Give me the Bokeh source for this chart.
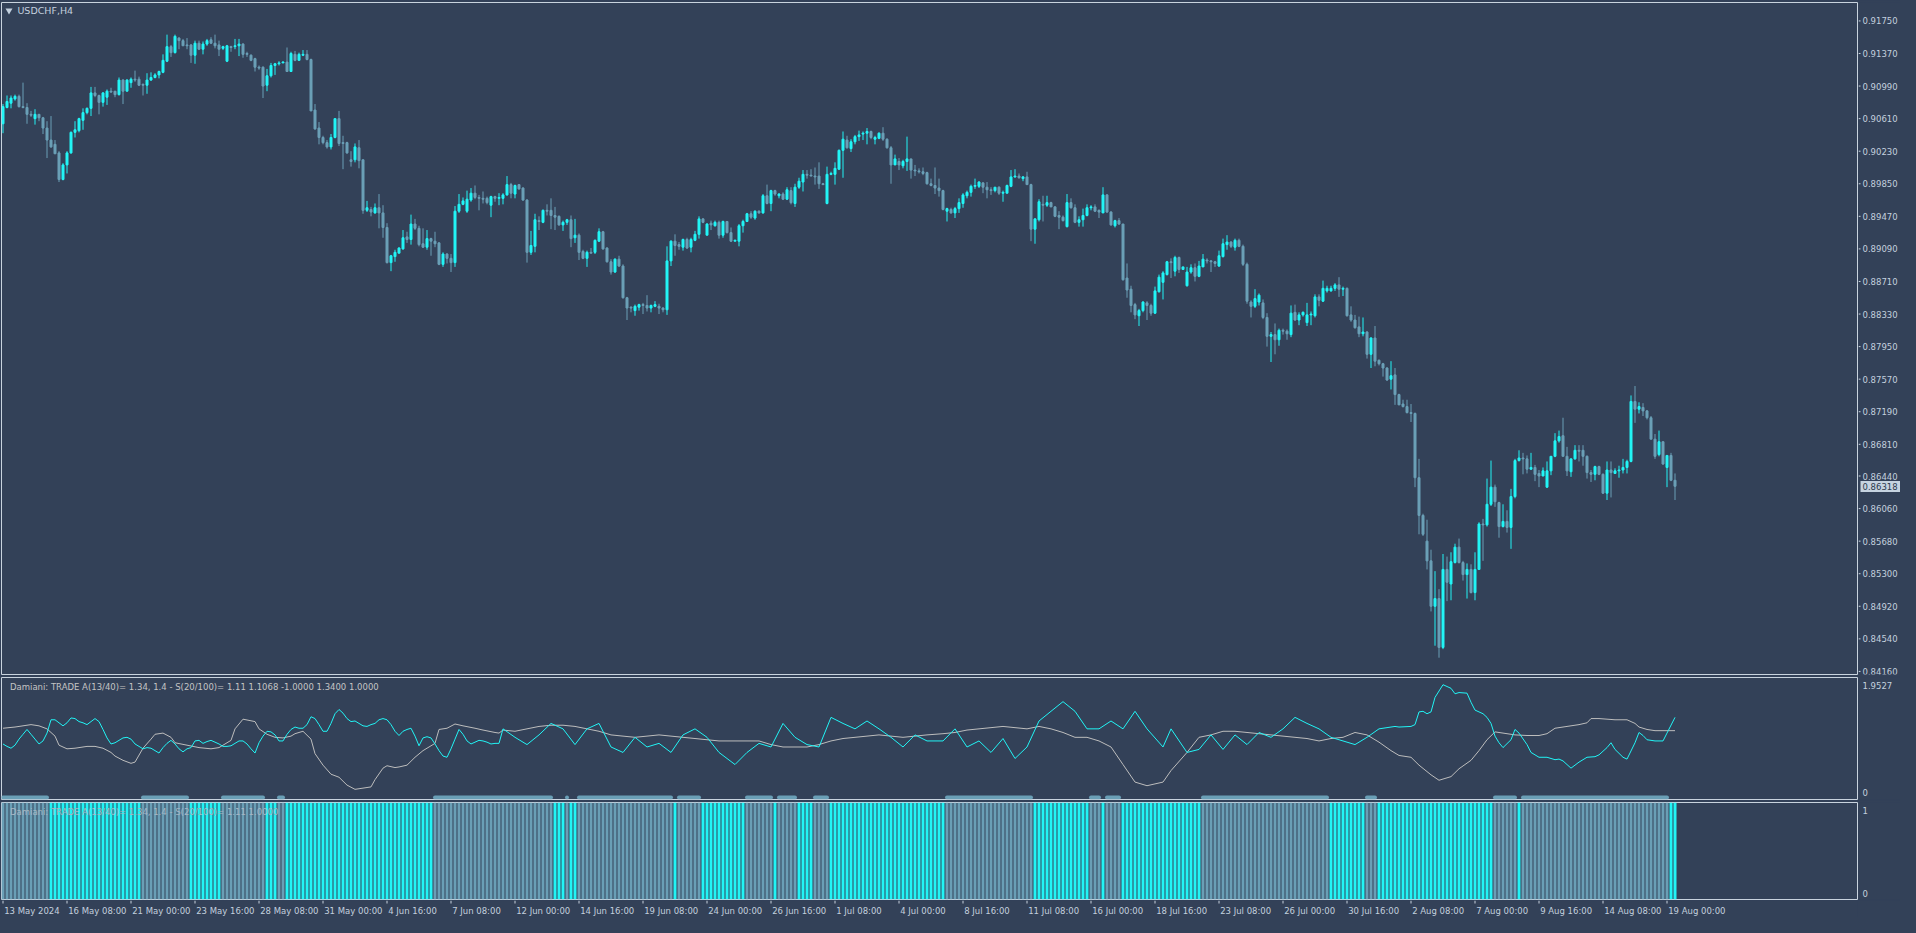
import numpy as np
from bokeh.plotting import figure
from bokeh.layouts import column, row
from bokeh.models import Range1d, ColumnDataSource, Label
from bokeh.core.properties import value
from bokeh.embed import file_html
from bokeh.resources import INLINE

# ---------------- data (USDCHF H4, prices in pips = price x 10^4) ----------------
open_pips = [
9055, 9074, 9079, 9084, 9087, 9075, 9074, 9066, 9061, 9066,
9062, 9050, 9036, 9031, 9021, 8990, 9007, 9021, 9045, 9047,
9059, 9068, 9073, 9091, 9088, 9080, 9086, 9093, 9093, 9089,
9106, 9093, 9103, 9107, 9107, 9101, 9100, 9106, 9109, 9112,
9115, 9128, 9145, 9138, 9155, 9152, 9147, 9147, 9135, 9149,
9142, 9148, 9153, 9149, 9147, 9143, 9128, 9145, 9145, 9146,
9148, 9137, 9135, 9131, 9121, 9121, 9100, 9111, 9123, 9125,
9126, 9127, 9116, 9136, 9129, 9135, 9136, 9130, 9071, 9050,
9039, 9033, 9028, 9039, 9061, 9033, 9033, 9013, 9013, 9027,
9013, 8954, 8955, 8951, 8957, 8951, 8934, 8893, 8900, 8904,
8909, 8923, 8920, 8938, 8933,
8915, 8911, 8921, 8918, 8916, 8891, 8903, 8898, 8893, 8953,
8961, 8953, 8966, 8974, 8969, 8968, 8968, 8960, 8970, 8968,
8968, 8972, 8984, 8973, 8984, 8980, 8966, 8905, 8912, 8942,
8940, 8954, 8954, 8948, 8947, 8937, 8940, 8943, 8922, 8925,
8906, 8898, 8905, 8905, 8918, 8929, 8910, 8894, 8882, 8897,
8889, 8852, 8841, 8837, 8841, 8844, 8843, 8840, 8842, 8842,
8840, 8838, 8895, 8918, 8914, 8911, 8920, 8911, 8919, 8926,
8944, 8925, 8939, 8936, 8940, 8925, 8941, 8928, 8918, 8918,
8936, 8941, 8950, 8945, 8953, 8951, 8971, 8962, 8977, 8971,
8973, 8967, 8977, 8962, 8981, 8987, 8996, 8995, 8994, 8994,
8985, 8962, 8996, 8996, 9002,
9024, 9036, 9026, 9034, 9040, 9043, 9044, 9046, 9037, 9038,
9044, 9037, 9027, 9007, 9011, 9006, 9011, 9014, 9001, 9000,
8999, 8998, 8985, 8983, 8980, 8977, 8953, 8955, 8951, 8956,
8962, 8971, 8975, 8982, 8982, 8986, 8981, 8978, 8977, 8981,
8974, 8974, 8982, 8993, 8994, 8991, 8993, 8984, 8932, 8943,
8961, 8960, 8963, 8958, 8948, 8946, 8935, 8963, 8957, 8940,
8943, 8948, 8957, 8958, 8954, 8951, 8972, 8952, 8936, 8942,
8938, 8875, 8862, 8844, 8831, 8837, 8846, 8843, 8834, 8859,
8870, 8879, 8894, 8883, 8899, 8885, 8866, 8882, 8887, 8877,
8888, 8896, 8895, 8894, 8889, 8900, 8914, 8917, 8911, 8919,
8912, 8891, 8847, 8842, 8847,
8846, 8829, 8807, 8809, 8803, 8814, 8813, 8809, 8835, 8826,
8832, 8823, 8832, 8831, 8853, 8848, 8860, 8860, 8863, 8867,
8862, 8863, 8832, 8826, 8818, 8810, 8812, 8786, 8805, 8779,
8775, 8770, 8757, 8762, 8739, 8728, 8725, 8718, 8717, 8642,
8598, 8568, 8545, 8492, 8501, 8444, 8535, 8518, 8543, 8561,
8543, 8529, 8535, 8508, 8535, 8588, 8587, 8611, 8631, 8613,
8585, 8591, 8584, 8620, 8662, 8665, 8664, 8652, 8654, 8647,
8644, 8631, 8650, 8667, 8685, 8691, 8667, 8649, 8664, 8674,
8674, 8667, 8648, 8646, 8655, 8646, 8624, 8651, 8647, 8650,
8651, 8654, 8661, 8731, 8722, 8724, 8720, 8712, 8687, 8669,
8684, 8654, 8668, 8639]

high_pips = [
9078, 9088, 9088, 9089, 9089, 9103, 9079, 9070, 9072, 9066,
9063, 9058, 9064, 9036, 9023, 9009, 9023, 9046, 9058, 9062,
9073, 9074, 9098, 9098, 9089, 9092, 9095, 9097, 9093, 9109,
9107, 9107, 9109, 9117, 9110, 9102, 9114, 9115, 9114, 9117,
9136, 9159, 9147, 9159, 9156, 9154, 9155, 9148, 9152, 9152,
9151, 9154, 9156, 9159, 9152, 9146, 9147, 9146, 9154, 9154,
9149, 9139, 9136, 9132, 9123, 9122, 9119, 9126, 9126, 9128,
9128, 9144, 9139, 9140, 9138, 9141, 9141, 9131, 9078, 9057,
9041, 9036, 9043, 9061, 9070, 9041, 9034, 9023, 9032, 9036,
9013, 8965, 8958, 8962, 8973, 8960, 8939, 8902, 8908, 8911,
8931, 8929, 8949, 8944, 8936,
8933, 8931, 8922, 8929, 8917, 8905, 8904, 8903, 8959, 8973,
8969, 8977, 8980, 8983, 8972, 8976, 8970, 8971, 8971, 8974,
8974, 8994, 8986, 8984, 8984, 8981, 8967, 8930, 8950, 8947,
8955, 8961, 8968, 8958, 8948, 8942, 8944, 8948, 8944, 8927,
8908, 8907, 8910, 8920, 8933, 8930, 8911, 8897, 8898, 8901,
8891, 8853, 8842, 8844, 8845, 8846, 8855, 8844, 8848, 8845,
8841, 8912, 8919, 8926, 8917, 8921, 8922, 8922, 8930, 8947,
8945, 8939, 8942, 8942, 8942, 8942, 8941, 8934, 8920, 8938,
8943, 8951, 8953, 8954, 8954, 8973, 8984, 8978, 8978, 8974,
8975, 8981, 8981, 8985, 8992, 9001, 9001, 9002, 9004, 9010,
8986, 9005, 8999, 9010, 9025,
9046, 9041, 9037, 9042, 9047, 9046, 9050, 9047, 9041, 9045,
9051, 9038, 9029, 9019, 9015, 9013, 9040, 9014, 9007, 9003,
9004, 8999, 8991, 9004, 8991, 8978, 8957, 8957, 8958, 8968,
8974, 8977, 8984, 8991, 8988, 8987, 8987, 8981, 8981, 8982,
8977, 8984, 9001, 9002, 8997, 8994, 8999, 8985, 8945, 8967,
8971, 8971, 8964, 8959, 8953, 8948, 8973, 8968, 8961, 8947,
8956, 8961, 8960, 8961, 8955, 8981, 8973, 8953, 8943, 8945,
8938, 8892, 8866, 8846, 8839, 8848, 8848, 8845, 8865, 8879,
8883, 8895, 8898, 8901, 8900, 8888, 8888, 8891, 8892, 8895,
8903, 8898, 8896, 8895, 8907, 8921, 8925, 8918, 8921, 8921,
8914, 8893, 8849, 8862, 8857,
8850, 8834, 8812, 8822, 8816, 8816, 8815, 8843, 8844, 8835,
8836, 8846, 8836, 8856, 8856, 8872, 8866, 8866, 8869, 8876,
8865, 8864, 8842, 8832, 8830, 8829, 8813, 8806, 8819, 8780,
8776, 8771, 8778, 8770, 8740, 8733, 8733, 8728, 8718, 8664,
8600, 8593, 8558, 8533, 8512, 8553, 8550, 8555, 8565, 8571,
8545, 8542, 8541, 8555, 8590, 8594, 8641, 8662, 8634, 8614,
8611, 8604, 8629, 8664, 8674, 8671, 8668, 8671, 8657, 8651,
8654, 8661, 8667, 8694, 8697, 8712, 8678, 8664, 8680, 8680,
8680, 8668, 8651, 8656, 8656, 8647, 8661, 8661, 8653, 8656,
8664, 8663, 8738, 8749, 8730, 8729, 8721, 8714, 8693, 8697,
8684, 8668, 8671, 8647]

low_pips = [
9044, 9073, 9073, 9082, 9074, 9073, 9055, 9063, 9054, 9058,
9043, 9015, 9027, 9020, 8987, 8989, 8997, 9020, 9039, 9045,
9048, 9066, 9064, 9086, 9066, 9075, 9077, 9091, 9086, 9088,
9078, 9093, 9097, 9104, 9099, 9088, 9090, 9105, 9108, 9108,
9114, 9127, 9133, 9137, 9142, 9146, 9142, 9126, 9125, 9141,
9136, 9146, 9148, 9143, 9134, 9141, 9127, 9139, 9142, 9134,
9132, 9133, 9128, 9116, 9118, 9085, 9093, 9109, 9112, 9123,
9126, 9116, 9116, 9128, 9129, 9134, 9129, 9070, 9048, 9031,
9031, 9026, 9025, 9038, 9029, 9002, 9020, 9005, 9010, 9003,
8950, 8952, 8947, 8950, 8933, 8922, 8892, 8883, 8894, 8904,
8908, 8916, 8914, 8931, 8912,
8910, 8908, 8901, 8911, 8890, 8888, 8892, 8882, 8888, 8951,
8960, 8951, 8964, 8967, 8954, 8962, 8961, 8946, 8964, 8960,
8961, 8971, 8968, 8968, 8978, 8965, 8893, 8902, 8905, 8931,
8939, 8948, 8932, 8931, 8936, 8930, 8937, 8911, 8916, 8896,
8897, 8888, 8904, 8903, 8917, 8908, 8893, 8879, 8881, 8888,
8851, 8826, 8835, 8831, 8837, 8833, 8836, 8835, 8841, 8833,
8835, 8832, 8889, 8901, 8908, 8907, 8909, 8905, 8918, 8921,
8939, 8925, 8931, 8935, 8921, 8922, 8927, 8917, 8918, 8912,
8928, 8941, 8944, 8943, 8950, 8950, 8961, 8953, 8971, 8968,
8966, 8966, 8961, 8958, 8979, 8976, 8991, 8994, 8984, 8979,
8984, 8961, 8995, 8984, 9001,
8992, 9026, 9022, 9031, 9035, 9036, 9031, 9037, 9031, 9037,
9035, 9026, 8985, 9007, 9001, 9003, 9000, 8991, 8994, 8997,
8995, 8984, 8982, 8973, 8970, 8954, 8941, 8950, 8945, 8951,
8957, 8968, 8970, 8979, 8980, 8974, 8968, 8972, 8975, 8972,
8964, 8974, 8981, 8992, 8991, 8988, 8984, 8918, 8915, 8941,
8941, 8958, 8958, 8946, 8932, 8941, 8934, 8956, 8939, 8935,
8935, 8947, 8954, 8952, 8945, 8951, 8951, 8936, 8934, 8937,
8872, 8852, 8835, 8827, 8819, 8835, 8826, 8831, 8833, 8858,
8850, 8878, 8875, 8877, 8881, 8885, 8865, 8880, 8871, 8876,
8888, 8892, 8882, 8888, 8888, 8899, 8908, 8910, 8907, 8911,
8889, 8845, 8829, 8840, 8843,
8827, 8795, 8777, 8786, 8796, 8809, 8803, 8806, 8825, 8820,
8830, 8819, 8820, 8829, 8842, 8847, 8858, 8859, 8860, 8853,
8854, 8830, 8824, 8816, 8806, 8807, 8781, 8770, 8772, 8773,
8760, 8755, 8745, 8727, 8727, 8724, 8717, 8707, 8631, 8576,
8574, 8535, 8486, 8446, 8432, 8442, 8498, 8499, 8542, 8542,
8522, 8501, 8507, 8499, 8535, 8545, 8585, 8609, 8608, 8572,
8584, 8578, 8559, 8618, 8661, 8646, 8647, 8651, 8638, 8631,
8644, 8630, 8645, 8666, 8683, 8667, 8644, 8643, 8663, 8661,
8656, 8641, 8637, 8639, 8645, 8623, 8616, 8619, 8647, 8642,
8647, 8647, 8660, 8706, 8717, 8714, 8710, 8687, 8664, 8667,
8657, 8631, 8638, 8616]

close_pips = [
9075, 9081, 9085, 9087, 9075, 9074, 9066, 9065, 9066, 9062,
9050, 9036, 9028, 9020, 8990, 9007, 9021, 9045, 9048, 9061,
9068, 9073, 9091, 9088, 9080, 9091, 9093, 9092, 9089, 9106,
9093, 9106, 9107, 9106, 9100, 9100, 9106, 9109, 9112, 9116,
9129, 9145, 9138, 9157, 9152, 9146, 9146, 9135, 9149, 9142,
9148, 9152, 9149, 9146, 9142, 9145, 9146, 9144, 9146, 9148,
9136, 9136, 9129, 9121, 9120, 9099, 9111, 9123, 9125, 9126,
9127, 9116, 9137, 9129, 9136, 9136, 9130, 9070, 9049, 9039,
9033, 9028, 9039, 9061, 9032, 9032, 9021, 9011, 9028, 9012,
8954, 8957, 8952, 8957, 8951, 8934, 8893, 8901, 8905, 8910,
8922, 8920, 8938, 8933, 8914,
8911, 8921, 8918, 8915, 8891, 8903, 8898, 8893, 8953, 8961,
8965, 8967, 8974, 8969, 8968, 8967, 8963, 8970, 8968, 8969,
8972, 8984, 8974, 8983, 8979, 8966, 8905, 8913, 8943, 8941,
8954, 8953, 8948, 8946, 8937, 8940, 8943, 8921, 8925, 8905,
8898, 8905, 8904, 8919, 8929, 8909, 8894, 8882, 8897, 8889,
8852, 8840, 8840, 8842, 8844, 8843, 8840, 8843, 8844, 8840,
8838, 8895, 8918, 8913, 8912, 8920, 8910, 8920, 8926, 8944,
8940, 8938, 8937, 8940, 8925, 8941, 8928, 8918, 8919, 8936,
8941, 8950, 8946, 8953, 8951, 8971, 8962, 8977, 8973, 8973,
8967, 8978, 8963, 8981, 8988, 8996, 8995, 8994, 8993, 8985,
8984, 8996, 8997, 9003, 9024,
9037, 9027, 9034, 9040, 9042, 9044, 9046, 9039, 9039, 9044,
9037, 9027, 9007, 9014, 9007, 9011, 9014, 9001, 9000, 8999,
8997, 8985, 8983, 8980, 8977, 8955, 8956, 8951, 8956, 8963,
8972, 8975, 8982, 8983, 8987, 8981, 8978, 8977, 8981, 8974,
8975, 8983, 8993, 8994, 8992, 8993, 8984, 8932, 8944, 8964,
8960, 8963, 8958, 8947, 8946, 8942, 8963, 8957, 8940, 8943,
8948, 8957, 8958, 8953, 8952, 8972, 8952, 8937, 8942, 8938,
8873, 8861, 8843, 8832, 8837, 8847, 8843, 8834, 8860, 8876,
8881, 8894, 8893, 8899, 8885, 8888, 8882, 8887, 8877, 8889,
8897, 8895, 8894, 8892, 8901, 8915, 8917, 8912, 8919, 8912,
8891, 8848, 8842, 8851, 8855,
8829, 8807, 8809, 8803, 8814, 8813, 8810, 8834, 8826, 8832,
8835, 8832, 8833, 8853, 8849, 8863, 8863, 8863, 8867, 8862,
8863, 8831, 8826, 8817, 8810, 8812, 8786, 8805, 8778, 8775,
8770, 8756, 8761, 8739, 8727, 8725, 8718, 8717, 8642, 8598,
8576, 8545, 8492, 8501, 8444, 8535, 8520, 8544, 8561, 8543,
8529, 8535, 8508, 8535, 8588, 8587, 8611, 8631, 8614, 8585,
8591, 8584, 8620, 8662, 8665, 8664, 8652, 8654, 8646, 8644,
8650, 8650, 8667, 8685, 8690, 8667, 8650, 8664, 8674, 8673,
8667, 8648, 8646, 8655, 8646, 8624, 8651, 8648, 8650, 8651,
8654, 8661, 8731, 8722, 8725, 8720, 8712, 8687, 8667, 8684,
8658, 8668, 8639, 8632]

last_price = 0.86318

price_ticks = [0.91750, 0.91370, 0.90990, 0.90610, 0.90230, 0.89850, 0.89470,
               0.89090, 0.88710, 0.88330, 0.87950, 0.87570, 0.87190, 0.86810,
               0.86440, 0.86060, 0.85680, 0.85300, 0.84920, 0.84540, 0.84160]

date_labels = ["13 May 2024", "16 May 08:00", "21 May 00:00", "23 May 16:00",
               "28 May 08:00", "31 May 00:00", "4 Jun 16:00", "7 Jun 08:00",
               "12 Jun 00:00", "14 Jun 16:00", "19 Jun 08:00", "24 Jun 00:00",
               "26 Jun 16:00", "1 Jul 08:00", "4 Jul 00:00", "8 Jul 16:00",
               "11 Jul 08:00", "16 Jul 00:00", "18 Jul 16:00", "23 Jul 08:00",
               "26 Jul 00:00", "30 Jul 16:00", "2 Aug 08:00", "7 Aug 00:00",
               "9 Aug 16:00", "14 Aug 08:00", "19 Aug 00:00"]
bars_per_label = 16

# Damiani volatmeter: cyan (ATR ratio) line, (bar, value)
cyan_bar = list(range(0, 125)) + [
    125, 128, 131, 134, 137, 140, 143, 146, 149, 152, 155, 158, 161, 164, 167, 170,
    173, 176, 179, 183, 186, 189, 192, 195, 198, 201, 204, 207, 210, 213, 216, 219,
    222, 225, 228, 231, 235, 238, 241, 244, 247, 250, 253, 256, 259, 262, 265, 268,
    271, 274, 277, 280, 283, 286, 290, 292, 296, 299, 302, 305, 308, 311, 314, 317,
    320, 323, 326, 329, 332, 335, 338, 341, 344, 348] + [
    349, 352, 353, 354, 355, 356, 357, 358, 360, 362, 363, 364, 366, 367, 368, 370,
    371, 372, 373, 374, 375, 377, 378, 379, 381, 382, 384, 386, 388, 389, 390, 392,
    394, 396, 398, 399, 401, 402, 403, 405, 406, 408, 409, 410, 411, 413, 415, 416, 418]
cyan_val = [
    0.87, 0.83, 0.80, 0.85, 0.95, 1.03, 1.11, 1.03, 0.95, 0.87,
    0.92, 1.05, 1.27, 1.27, 1.22, 1.17, 1.22, 1.30, 1.29, 1.24,
    1.22, 1.19, 1.24, 1.29, 1.24, 1.11, 0.97, 0.87, 0.89, 0.93,
    0.97, 0.98, 0.95, 0.87, 0.83, 0.79, 0.81, 0.80, 0.76, 0.72,
    0.81, 0.88, 0.93, 0.87, 0.79, 0.74, 0.79, 0.81, 0.92, 0.93,
    0.88, 0.91, 0.93, 0.90, 0.87, 0.83, 0.83, 0.84, 0.88, 0.92,
    0.92, 0.87, 0.79, 0.72, 0.89, 1.00, 1.08, 1.07, 1.02, 0.92,
    0.92, 1.03, 1.11, 1.15, 1.13, 1.13, 1.19, 1.32, 1.29, 1.19,
    1.08, 1.08, 1.21, 1.37, 1.44, 1.38, 1.29, 1.24, 1.25, 1.21,
    1.17, 1.16, 1.19, 1.21, 1.27, 1.29, 1.27, 1.19, 1.08, 1.01,
    1.08, 1.11, 1.13, 1.00, 0.84, 0.97, 0.99, 0.97, 0.87, 0.76,
    0.67, 0.65, 0.79, 0.95, 1.11, 1.03, 0.92, 0.87, 0.90, 0.93,
    0.92, 0.90, 0.87, 0.88, 0.88,
    1.12, 0.98, 0.86, 1.02, 1.21, 1.12, 0.86, 1.12, 1.21, 0.82, 0.73, 0.98, 0.82, 0.88,
    0.73, 1.02, 1.12, 0.98, 0.73, 0.53, 0.73, 0.88, 0.82, 1.21, 0.98, 0.86, 0.82, 1.31,
    1.21, 1.12, 1.25, 1.12, 0.98, 0.82, 1.02, 0.92, 0.92, 1.12, 0.82, 0.92, 0.73, 0.96,
    0.63, 0.82, 1.25, 1.41, 1.57, 1.41, 1.12, 1.12, 1.25, 1.12, 1.41, 1.12, 0.82, 1.12,
    0.73, 0.78, 1.02, 0.78, 1.02, 0.86, 1.06, 0.98, 1.12, 1.31, 1.21, 1.12, 0.98, 0.92,
    0.86, 0.98, 1.12, 1.16,
    1.15, 1.16, 1.19, 1.40, 1.41, 1.37, 1.40, 1.64, 1.85, 1.79, 1.70, 1.72, 1.71, 1.56,
    1.43, 1.37, 1.31, 1.21, 1.00, 0.89, 0.81, 0.94, 1.11, 1.05, 0.86, 0.73, 0.65, 0.65,
    0.61, 0.62, 0.59, 0.47, 0.57, 0.65, 0.66, 0.69, 0.81, 0.89, 0.78, 0.65, 0.62, 0.89,
    1.06, 1.01, 0.94, 0.92, 0.92, 1.05, 1.31]

# Damiani volatmeter: silver (std-dev ratio) line, (bar, value)
silver_bar = [
    0, 3, 7, 9, 11, 13, 14, 16, 18, 21, 23, 25, 27, 28, 30, 32, 33, 35, 37, 38,
    40, 42, 43, 46, 49, 52, 54, 57, 58, 60, 63, 64, 66, 68, 70, 72, 73, 75, 77, 78,
    80, 82, 84, 86, 88, 90, 92, 93, 95, 96, 98, 99, 101, 103, 105, 108, 109, 111, 113, 115,
    118, 120, 123, 124,
    125, 128, 131, 134, 137, 140, 143, 146, 149, 152, 155, 158, 161, 164, 167, 170,
    173, 176, 179, 183, 186, 189, 192, 195, 198, 201, 204, 207, 210, 213, 216, 219,
    222, 225, 228, 231, 235, 238, 241, 244, 247, 250, 253, 256, 259, 262, 265, 268,
    271, 274, 277, 280, 283, 286, 290, 292, 296, 299, 302, 305, 308, 311, 314, 317,
    320, 323, 326, 329, 332, 335, 338, 341, 344, 347,
    349, 352, 354, 357, 359, 362, 364, 367, 369, 371, 373, 375, 378, 381, 384, 386,
    388, 391, 394, 396, 397, 399, 403, 406, 408, 409, 411, 413, 416, 418]
silver_val = [
    1.13, 1.15, 1.19, 1.17, 1.12, 1.00, 0.85, 0.79, 0.80, 0.83, 0.83, 0.80, 0.73, 0.67,
    0.60, 0.55, 0.57, 0.80, 0.95, 1.03, 1.05, 0.98, 0.89, 0.85, 0.81, 0.79, 0.81, 0.93,
    1.12, 1.28, 1.24, 1.12, 1.03, 0.98, 0.97, 1.00, 1.04, 1.08, 0.95, 0.71, 0.52, 0.37,
    0.32, 0.19, 0.12, 0.14, 0.16, 0.28, 0.47, 0.51, 0.48, 0.49, 0.52, 0.65, 0.76, 0.88,
    1.11, 1.13, 1.20, 1.17, 1.13, 1.10, 1.06, 1.05,
    1.10, 1.08, 1.12, 1.16, 1.18, 1.18, 1.16, 1.12, 1.08, 1.02, 1.00, 0.98, 1.00, 1.02,
    1.00, 0.98, 0.96, 0.94, 0.92, 0.92, 0.92, 0.92, 0.86, 0.82, 0.82, 0.82, 0.86, 0.92,
    0.96, 0.98, 1.00, 1.02, 1.00, 0.98, 1.00, 1.02, 1.04, 1.06, 1.10, 1.12, 1.14, 1.16,
    1.14, 1.12, 1.16, 1.12, 1.06, 0.98, 0.98, 0.92, 0.82, 0.53, 0.24, 0.18, 0.24, 0.43,
    0.73, 0.98, 1.02, 1.08, 1.08, 1.06, 1.04, 1.02, 1.00, 0.98, 0.96, 0.92, 0.96, 0.98,
    1.06, 1.02, 0.90, 0.76,
    0.68, 0.65, 0.52, 0.36, 0.27, 0.33, 0.46, 0.60, 0.76, 0.94, 1.07, 1.05, 1.02, 1.01,
    1.01, 1.04, 1.13, 1.16, 1.19, 1.22, 1.29, 1.29, 1.27, 1.27, 1.21, 1.15, 1.11, 1.09,
    1.09, 1.09]

# "no trade" (grey) stretches of the TRADE histogram, inclusive bar ranges
grey_runs = [(0, 11), (35, 46), (55, 65), (69, 70), (108, 137), (141, 141),
             (144, 167), (169, 174), (186, 192), (194, 198), (203, 206),
             (236, 257), (272, 274), (276, 279), (300, 331), (341, 343),
             (373, 378), (380, 416)]

label_main = "USDCHF,H4"
label_ind1 = "Damiani: TRADE  A(13/40)= 1.34, 1.4 - S(20/100)= 1.11  1.1068 -1.0000 1.3400 1.0000"
label_ind2 = "Damiani: TRADE  A(13/40)= 1.34, 1.4 - S(20/100)= 1.11  1.0000"
ind_max_label = "1.9527"

# ---------------- styling ----------------
BG = "#334158"
BULL = "#22f4f5"
BEAR = "#6a9fb6"
FRAME = "#c9d3de"
AXTXT = "#c3d0de"
IND_TXT = "#c4c4c4"
SILVER = "#bdbdbd"
FONT = "DejaVu Sans"
FS = "8.5px"

W_MAIN, W_SIDE = 1858, 42
LB, RB = 1, 1
frame_w = W_MAIN - LB - RB
PXB = 4.0
x_start = -1.5 / PXB
xr = Range1d(x_start, x_start + frame_w / PXB)

N = len(close_pips)
xb = np.arange(N)
o = np.array(open_pips) / 1e4
h = np.array(high_pips) / 1e4
l = np.array(low_pips) / 1e4
c = np.array(close_pips) / 1e4
col = np.where(c >= o, BULL, BEAR)
src = ColumnDataSource(dict(x=xb, h=h, l=l, top=np.maximum(o, c), bot=np.minimum(o, c), color=col))


def panel(height, yr, top, bottom):
    f = figure(width=W_MAIN, height=height, x_range=xr, y_range=yr, output_backend="svg",
               toolbar_location=None, x_axis_location=None, y_axis_location=None,
               min_border_left=LB, min_border_right=RB, min_border_top=top,
               min_border_bottom=bottom, background_fill_color=BG, border_fill_color=BG,
               outline_line_color=FRAME, outline_line_width=1)
    f.grid.visible = False
    return f


def side(height, yr, top, bottom):
    f = figure(width=W_SIDE, height=height, x_range=Range1d(0, W_SIDE), y_range=yr,
               output_backend="svg", toolbar_location=None, x_axis_location=None,
               y_axis_location=None, min_border_left=0, min_border_right=0,
               min_border_top=top, min_border_bottom=bottom, background_fill_color=BG,
               border_fill_color=BG, outline_line_color=None)
    f.grid.visible = False
    return f


def side_text(f, ys, texts, color=AXTXT):
    f.text(x=[4] * len(ys), y=ys, text=texts, text_font=value(FONT), text_font_size=FS,
           text_color=color, text_baseline="middle", text_align="left")


# ---- main price panel ----
P_LO, P_HI = 0.84124, 0.91965
H1 = 676
yr1 = Range1d(P_LO, P_HI)
p1 = panel(H1, yr1, 2, 2)
p1.segment(x0="x", y0="l", x1="x", y1="h", line_color="color", line_width=1, source=src)
p1.vbar(x="x", width=0.5, top="top", bottom="bot", fill_color="color", line_color="color",
        line_width=1, source=src)
ppx = (P_HI - P_LO) / (H1 - 4)
p1.scatter(x=[1.5], y=[P_HI - 8 * ppx], marker="inverted_triangle", size=7,
           fill_color=AXTXT, line_color=None)
p1.add_layout(Label(x=3.6, y=P_HI - 8 * ppx, text=label_main, text_font=FONT,
                    text_font_size="9.5px", text_color=AXTXT, text_baseline="middle",
                    text_align="left"))

s1 = side(H1, yr1, 2, 2)
s1.segment(x0=[0] * len(price_ticks), x1=[2] * len(price_ticks), y0=price_ticks, y1=price_ticks,
           line_color=FRAME, line_width=1)
side_text(s1, price_ticks, ["%.5f" % t for t in price_ticks])
s1.quad(left=[2], right=[W_SIDE], top=[last_price + 5.5 * ppx], bottom=[last_price - 5.5 * ppx],
        fill_color="#c6d3e0", line_color=None)
side_text(s1, [last_price], ["%.5f" % last_price], color="#2c394d")

# ---- Damiani lines panel ----
V_LO, V_HI = -0.048, 1.969
H2 = 124
yr2 = Range1d(V_LO, V_HI)
p2 = panel(H2, yr2, 1, 1)
p2.line(x=silver_bar, y=silver_val, line_color=SILVER, line_width=1)
p2.line(x=cyan_bar, y=cyan_val, line_color=BULL, line_width=1)
p2.segment(x0=[a for a, b in grey_runs], x1=[b for a, b in grey_runs],
           y0=[-0.016] * len(grey_runs), y1=[-0.016] * len(grey_runs),
           line_color=BEAR, line_width=4, line_cap="round")
p2.add_layout(Label(x=1.75, y=1.82, text=label_ind1, text_font=FONT, text_font_size=FS,
                    text_color=IND_TXT, text_baseline="middle", text_align="left"))
s2 = side(H2, yr2, 1, 1)
side_text(s2, [1.84, 0.06], [ind_max_label, "0"])

# ---- TRADE histogram panel ----
state = np.ones(N, dtype=int)
for a, b in grey_runs:
    state[a:b + 1] = 0
hcol = np.where(state == 1, BULL, BEAR)
H3 = 100
yr3 = Range1d(0, 1)
p3 = panel(H3, yr3, 2, 1)
p3.vbar(x=xb, width=0.75, top=1, bottom=0, fill_color=hcol, line_color=None)
p3.add_layout(Label(x=1.75, y=0.905, text=label_ind2, text_font=FONT, text_font_size=FS,
                    text_color="#a7b6c3", text_baseline="middle", text_align="left"))
s3 = side(H3, yr3, 2, 1)
side_text(s3, [0.92, 0.06], ["1", "0"])

# ---- time axis strip ----
H4 = 17
date_bars = [i * bars_per_label for i in range(len(date_labels))]
ts = figure(width=W_MAIN + W_SIDE, height=H4, x_range=xr, y_range=Range1d(0, 1),
            output_backend="svg", toolbar_location=None, x_axis_location=None,
            y_axis_location=None, min_border_left=LB, min_border_right=RB + W_SIDE,
            min_border_top=0, min_border_bottom=0, background_fill_color=BG,
            border_fill_color=BG, outline_line_color=None)
ts.grid.visible = False
ts.segment(x0=date_bars, x1=date_bars, y0=[1] * len(date_bars), y1=[1 - 3.0 / H4] * len(date_bars),
           line_color=FRAME, line_width=1)
ts.text(x=[b + 0.3 for b in date_bars], y=[0.36] * len(date_bars), text=date_labels,
        text_font=value(FONT), text_font_size=FS, text_color=AXTXT, text_baseline="middle",
        text_align="left")

layout = column(row(p1, s1, spacing=0), row(p2, s2, spacing=0), row(p3, s3, spacing=0), ts,
                spacing=0)
try:
    from bokeh.models import GlobalInlineStyleSheet
    layout.stylesheets = [GlobalInlineStyleSheet(css="html, body { background-color: %s; }" % BG)]
except Exception:
    pass

open("out.html", "w").write(file_html(layout, INLINE))
